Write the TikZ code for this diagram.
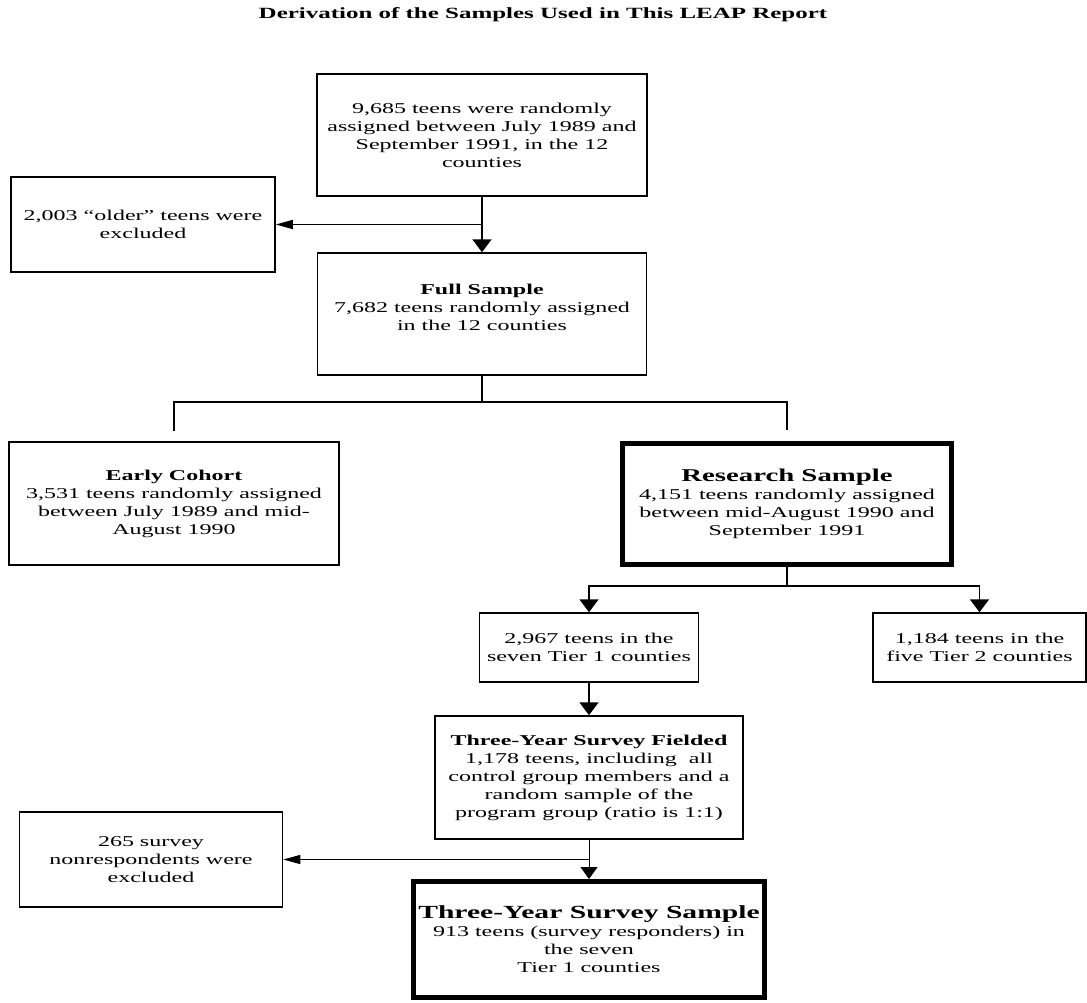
\documentclass[tikz,border=0pt]{standalone}
\usepackage{fontspec}
\setmainfont{Liberation Serif}[FakeStretch=1.6]
\usetikzlibrary{arrows.meta}
\begin{document}
\begin{tikzpicture}[x=1pt,y=-1pt,
  txt/.style={align=center, inner sep=0pt, font=\fontsize{15}{18}\selectfont},
  box/.style={txt, draw, line width=1.5pt},
  thickbox/.style={box, line width=5pt},
  ln/.style={line width=1.6pt},
  thinln/.style={line width=1pt},
  varr/.style={ln, -{Triangle[length=13pt,width=19pt]}},
  harr/.style={ln, -{Triangle[length=17pt,width=9pt]}},
  thinvarr/.style={thinln, -{Triangle[length=12pt,width=17pt]}},
  thinharr/.style={thinln, -{Triangle[length=17pt,width=9pt]}}
]
\useasboundingbox (0,0) rectangle (1087,1002);
\fill[white] (0,0) rectangle (1087,1002);

\node[anchor=base, font=\bfseries\fontsize{15.6}{18}\selectfont] (title) at (543,18.5)
  {Derivation of the Samples Used in This LEAP Report};

\node[box, minimum width=330pt, minimum height=122pt] (all) at (482,135)
  {9,685 teens were randomly\\assigned between July 1989 and\\September 1991, in the 12\\counties};
\node[box, minimum width=264pt, minimum height=95pt] (older) at (143,224.5)
  {2,003 “older” teens were\\excluded};
\node[box, minimum width=329pt, minimum height=122pt] (full) at (482,314) {};
\node[txt] (fulltext) at (482,307)
  {\textbf{Full Sample}\\7,682 teens randomly assigned\\in the 12 counties};
\node[box, minimum width=330pt, minimum height=123pt] (early) at (174,503.5)
  {\textbf{Early Cohort}\\3,531 teens randomly assigned\\between July 1989 and mid-\\August 1990};
\node[thickbox, minimum width=329pt, minimum height=121pt] (research) at (787,504)
  {{\bfseries\fontsize{18}{20}\selectfont Research Sample}\\4,151 teens randomly assigned\\between mid-August 1990 and\\September 1991};
\node[box, minimum width=219pt, minimum height=69pt] (tier1) at (589,647.5)
  {2,967 teens in the\\seven Tier 1 counties};
\node[box, minimum width=213pt, minimum height=69pt] (tier2) at (979.5,647.5)
  {1,184 teens in the\\five Tier 2 counties};
\node[box, minimum width=308pt, minimum height=123pt] (fielded) at (589,777.5)
  {\textbf{Three-Year Survey Fielded}\\1,178 teens, including\ \ all\\control group members and a\\random sample of the\\program group (ratio is 1:1)};
\node[box, minimum width=263pt, minimum height=95pt] (nonresp) at (151,859.5)
  {265 survey\\nonrespondents were\\excluded};
\node[thickbox, minimum width=351pt, minimum height=116pt] (survey) at (589,939.5)
  {{\bfseries\fontsize{18.5}{20.5}\selectfont Three-Year Survey Sample}\\913 teens (survey responders) in\\the seven\\Tier 1 counties};

% connectors
\draw[varr] (all.south) -- (full.north);
\draw[harr] (all.south |- older.east) -- (older.east);

\coordinate (split) at (482,402);
\draw[ln] (full.south) -- (split);
\draw[ln] ([yshift=10pt]early.north) |- (split) -| ([yshift=11pt]research.north);

\coordinate (rsplit) at (787,586);
\draw[ln] (research.south) -- (rsplit);
\draw[varr] (rsplit) -| (tier1.north);
\draw[varr] (rsplit) -| (tier2.north);

\draw[varr] (tier1.south) -- (fielded.north);
\draw[thinvarr] (fielded.south) -- (survey.north);
\draw[thinharr] (fielded.south |- nonresp.east) -- (nonresp.east);
\end{tikzpicture}
\end{document}
